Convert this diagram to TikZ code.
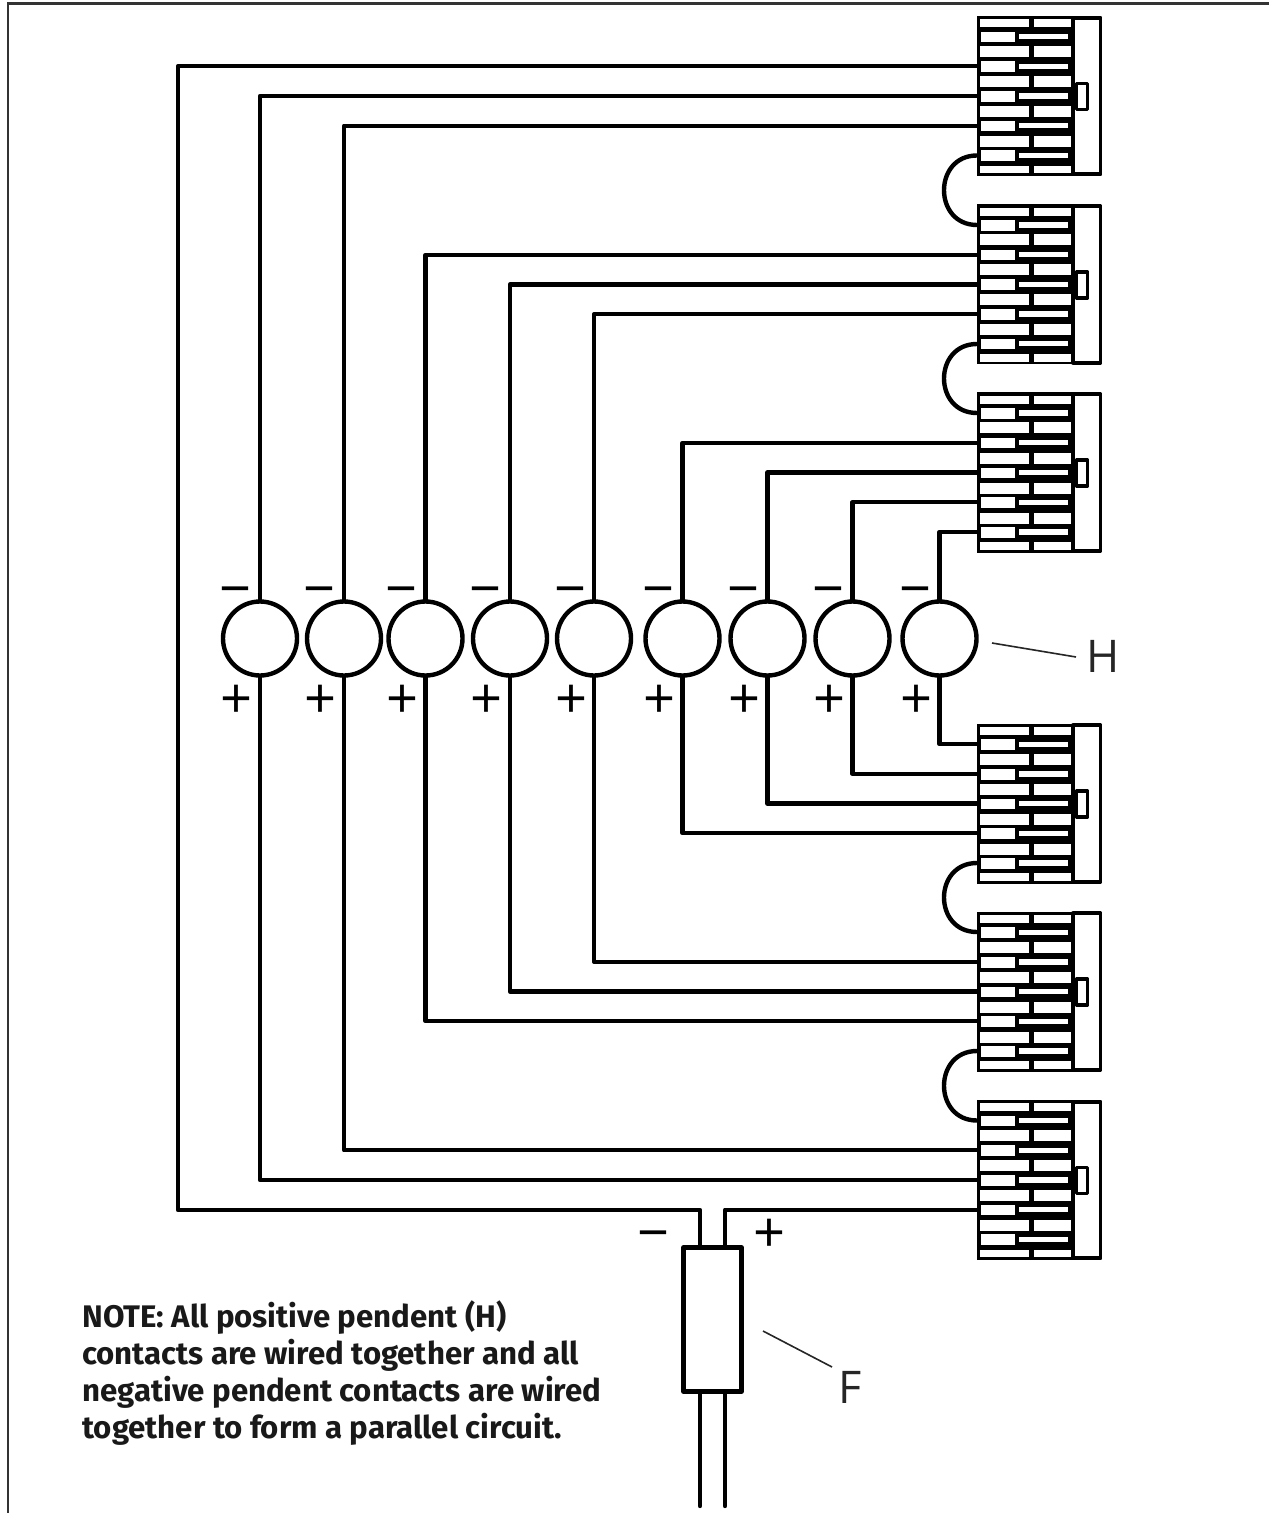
\documentclass[tikz,border=0pt]{standalone}
\usepackage{fontspec}
\setmainfont{Open Sans}
\newfontfamily\notefont{Fira Sans}

\tikzset{
  wire/.style={line width=2.2pt,line join=round,line cap=round},
  pendent/.style={circle,draw,line width=2.2pt,fill=white,minimum size=37pt,inner sep=0pt},
  fuse/.style={rectangle,draw,line width=2.2pt,line join=round,minimum width=29pt,minimum height=72pt,inner sep=0pt},
  sign/.style={inner sep=0pt,font=\fontsize{28}{28}\selectfont},
  letter/.style={inner sep=0pt,text=black!85,font=\fontsize{22.5}{22.5}\selectfont},
  leader/.style={line width=0.8pt,black!85},
  note/.style={anchor=west,inner sep=0pt,align=left,text=black!90,font=\notefont\fontsize{15.6}{18.5}\selectfont\bfseries}
}

% terminal block: name, top edge
\newcommand{\termblock}[2]{
  \begin{scope}[shift={(977,#2)}]
    \fill (0,0) rectangle (96,160);
    \fill[white] (3,3.3) rectangle (52.3,11.3);
    \fill[white] (57,3.3) rectangle (93.7,11.3);
    \fill[white] (3,149.7) rectangle (52.3,157.3);
    \fill[white] (57,149.7) rectangle (93.7,157.3);
    \foreach \r in {30,60,90,120} {
      \fill[white] (3,\r) rectangle (52.3,{\r+11});
      \fill[white] (57,\r) rectangle (93.7,{\r+11});
    }
    \foreach \r in {15.7,45.4,75,104.7,134.4} {
      \fill[white] (4,\r) rectangle (38,{\r+10.6});
      \fill[white] (42.3,{\r+2.3}) rectangle (90.7,{\r+7.6});
    }
    \draw[line width=1.9pt,line join=round,fill=white] (96,1.75) rectangle (123.5,158.25);
    \draw[line width=1.6pt,line join=round] (99.5,67.5) rectangle (110.5,93.5);
    \coordinate (#1-1) at (0,20.5);
    \coordinate (#1-2) at (0,50.25);
    \coordinate (#1-3) at (0,80);
    \coordinate (#1-4) at (0,109.75);
    \coordinate (#1-5) at (0,139.5);
  \end{scope}
}

\begin{document}
\begin{tikzpicture}[x=0.5pt,y=-0.5pt]
  \useasboundingbox (0,0) rectangle (1269,1513);
  \draw[line width=1.1pt,black!80] (8,1513) -- (8,3.5) -- (1269,3.5);

  \termblock{ta}{16}
  \termblock{tb}{204.5}
  \termblock{tc}{392.5}
  \termblock{td}{723.5}
  \termblock{te}{911.5}
  \termblock{tf}{1100}

  % links between the blocks
  \draw[wire] (ta-5) .. controls +(-44,0) and +(-44,0) .. (tb-1);
  \draw[wire] (tb-5) .. controls +(-44,0) and +(-44,0) .. (tc-1);
  \draw[wire] (td-5) .. controls +(-44,0) and +(-44,0) .. (te-1);
  \draw[wire] (te-5) .. controls +(-44,0) and +(-44,0) .. (tf-1);

  \node[pendent] (h1) at (260,638.5) {};
  \node[pendent] (h2) at (344,638.5) {};
  \node[pendent] (h3) at (425.5,638.5) {};
  \node[pendent] (h4) at (510,638.5) {};
  \node[pendent] (h5) at (594,638.5) {};
  \node[pendent] (h6) at (682.5,638.5) {};
  \node[pendent] (h7) at (767.5,638.5) {};
  \node[pendent] (h8) at (852.5,638.5) {};
  \node[pendent] (h9) at (939.5,638.5) {};

  \foreach \i in {1,...,9} {
    \node[sign] (m\i) at ([shift={(-24,-41)}]h\i.center) {−};
    \node[sign] (p\i) at ([shift={(-23,63)}]h\i.center) {+};
  }

  % negative side
  \draw[wire] (h1.north) |- (ta-3);
  \draw[wire] (h2.north) |- (ta-4);
  \draw[wire] (h3.north) |- (tb-2);
  \draw[wire] (h4.north) |- (tb-3);
  \draw[wire] (h5.north) |- (tb-4);
  \draw[wire] (h6.north) |- (tc-2);
  \draw[wire] (h7.north) |- (tc-3);
  \draw[wire] (h8.north) |- (tc-4);
  \draw[wire] (h9.north) |- (tc-5);

  % positive side
  \draw[wire] (h9.south) |- (td-1);
  \draw[wire] (h8.south) |- (td-2);
  \draw[wire] (h7.south) |- (td-3);
  \draw[wire] (h6.south) |- (td-4);
  \draw[wire] (h5.south) |- (te-2);
  \draw[wire] (h4.south) |- (te-3);
  \draw[wire] (h3.south) |- (te-4);
  \draw[wire] (h2.south) |- (tf-2);
  \draw[wire] (h1.south) |- (tf-3);

  % feed
  \node[fuse] (f) at (712.5,1319.5) {};
  \coordinate (fneg) at (700,1247);
  \coordinate (fpos) at (725,1247);
  \coordinate (fnegout) at (700,1506);
  \coordinate (fposout) at (725,1506);
  \coordinate (fnegin) at (700,1392);
  \coordinate (fposin) at (725,1392);
  \coordinate (outer) at (178,1210);
  \draw[wire] (ta-2) -| (outer) -| (fneg);
  \draw[wire] (tf-4) -| (fpos);
  \draw[wire] (fnegin) -- (fnegout);
  \draw[wire] (fposin) -- (fposout);
  \node[sign] (fm) at (653,1242) {−};
  \node[sign] (fp) at (769,1236) {+};

  % call-outs
  \node[letter] (hl) at (1103,656) {H};
  \node[letter] (fl) at (850,1387) {F};
  \coordinate (ha) at (992,643);
  \coordinate (hb) at (1076,657);
  \coordinate (fa) at (763,1331);
  \coordinate (fb) at (832,1367);
  \draw[leader] (ha) -- (hb);
  \draw[leader] (fa) -- (fb);

  \node[note] (nt) at (82,1373) {NOTE: All positive pendent (H)\\contacts are wired together and all\\negative pendent contacts are wired\\together to form a parallel circuit.};
\end{tikzpicture}
\end{document}
